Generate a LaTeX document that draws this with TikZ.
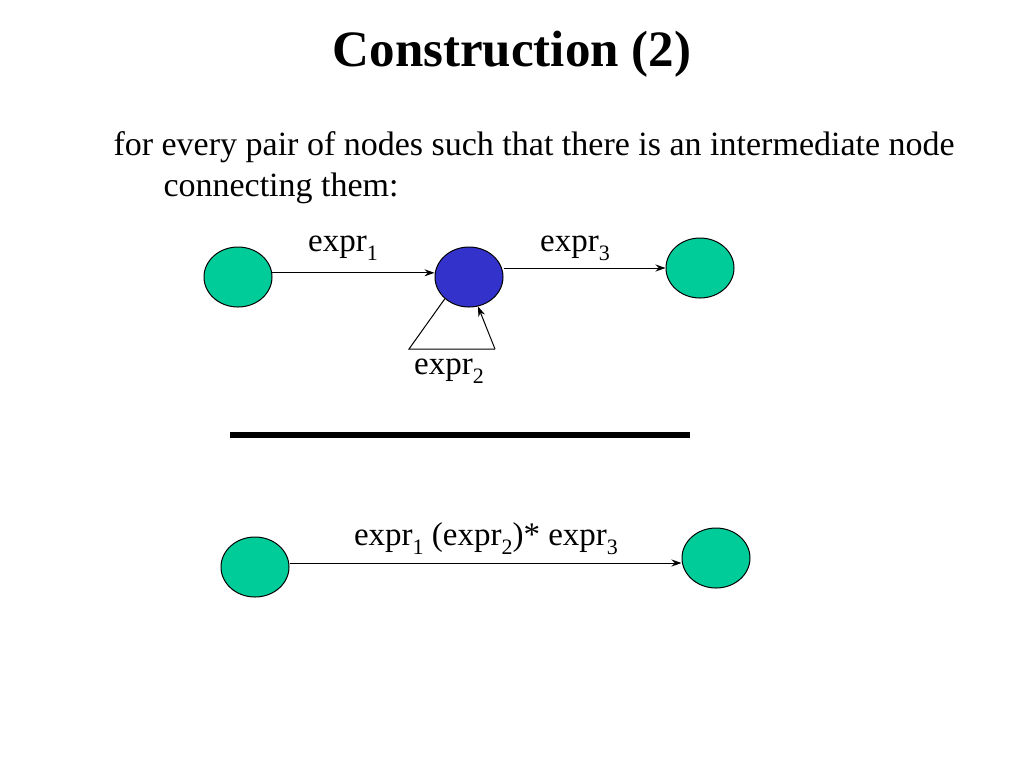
\documentclass[tikz,border=0pt]{standalone}
\usepackage{fontspec}
\setmainfont{Liberation Serif}
\usetikzlibrary{shapes.geometric, arrows.meta}

\definecolor{stategreen}{RGB}{0,204,153}
\definecolor{stateblue}{RGB}{51,51,204}
\newcommand{\lowsub}[1]{\raisebox{-0.3em}{\fontsize{11}{11}\selectfont #1}}

\tikzset{
  state/.style = {ellipse, draw, fill = stategreen, line width = 0.5pt,
                  minimum width = 34pt, minimum height = 30pt, inner sep = 0pt},
  midstate/.style = {state, fill = stateblue},
  lbl/.style = {font = \fontsize{16.5}{20}\selectfont, inner sep = 0pt, anchor = base},
  body/.style = {font = \fontsize{17}{21}\selectfont, anchor = base west, inner sep = 0pt}
}

\begin{document}
\begin{tikzpicture}[x = 0.5pt, y = -0.5pt, >= {Stealth[length = 5pt, width = 3.5pt]}, line width = 0.5pt]
      \useasboundingbox (0, 0) rectangle (1024, 768);
      \node[font = \fontsize{25.5}{30}\selectfont\bfseries, anchor = base] (title) at (512, 66) {Construction (2)};
      \node[body] (line1) at (113, 155) {for every pair of nodes such that there is an intermediate node};
      \node[body] (line2) at (163, 196) {connecting them:};
      % before
      \node[state] (A) at (238, 277) {};
      \node[midstate] (B) at (469, 277) {};
      \node[state] (C) at (700, 268) {};
      \coordinate (loopl) at (409, 349);
      \coordinate (loopr) at (495, 349);
      \draw[->] (A.7) -- (A.7 -| B.west);
      \draw[->] (B.east |- C.west) -- (C.west);
      \draw (B.222) -- (loopl) -- (loopr);
      \draw[->] (loopr) -- (B.287);
      \node[lbl] (e1) at (343, 251) {expr\lowsub{1}};
      \node[lbl] (e3) at (575, 251) {expr\lowsub{3}};
      \node[lbl] (e2) at (449, 374) {expr\lowsub{2}};
      % separator
      \draw[line width = 3pt] (230, 435) -- (690, 435);
      % after
      \node[state] (D) at (255, 567) {};
      \node[state] (E) at (716, 558) {};
      \draw[->] (D.east |- 0, 563) -- (E.west |- 0, 563);
      \node[lbl] (e123) at (486, 545) {expr\lowsub{1} (expr\lowsub{2})* expr\lowsub{3}};
\end{tikzpicture}
\end{document}
